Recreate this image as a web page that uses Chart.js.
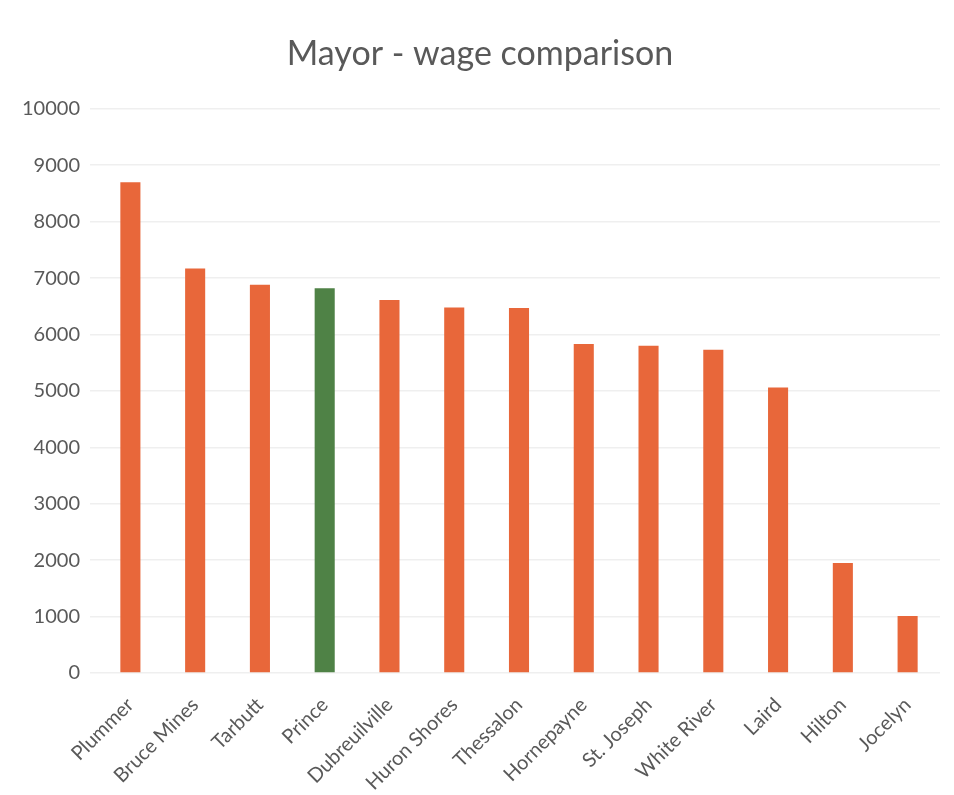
<!DOCTYPE html>
<html lang="en">
<head>
  <meta charset="UTF-8">
  <title>Mayor - wage comparison</title>
  <script src="https://cdn.jsdelivr.net/npm/chart.js"></script>
  <style>
    html, body { margin: 0; padding: 0; background: #fff; }
    #wrap { width: 954px; height: 795px; position: relative; }
  </style>
</head>
<body>
  <div id="wrap"><canvas id="wageChart"></canvas></div>

  <script>
    // municipalities, sorted by mayor's wage
    const towns = ['Plummer', 'Bruce Mines', 'Tarbutt', 'Prince', 'Dubreuilville', 'Huron Shores',
                   'Thessalon', 'Hornepayne', 'St. Joseph', 'White River', 'Laird', 'Hilton', 'Jocelyn'];
    const wages = [8700, 7170, 6880, 6820, 6610, 6480, 6470, 5830, 5800, 5730, 5060, 1950, 1010];
    const highlight = 'Prince';
    const yTicks = [0, 1000, 2000, 3000, 4000, 5000, 6000, 7000, 8000, 9000, 10000];

    const orange = '#E8673A';
    const green = '#4F8246';
    const grey = '#595959';
    const font = 'Lato, "Open Sans", sans-serif';

    new Chart(document.getElementById('wageChart'), {
      type: 'bar',
      data: {
        labels: towns,
        datasets: [{
          label: 'Wage',
          data: wages,
          backgroundColor: towns.map(t => t === highlight ? green : orange),
          barPercentage: 0.31,
          categoryPercentage: 1
        }]
      },
      options: {
        responsive: true,
        maintainAspectRatio: false,
        animation: false,
        layout: { padding: { left: 20, right: 14, top: 0, bottom: 0 } },
        plugins: {
          legend: { display: false },
          tooltip: { enabled: false },
          title: {
            display: true,
            text: 'Mayor - wage comparison',
            color: grey,
            font: { family: font, size: 34, weight: 'normal' },
            padding: { top: 34, bottom: 34 }
          }
        },
        scales: {
          x: {
            grid: { display: false },
            border: { display: false },
            ticks: {
              color: grey,
              font: { family: font, size: 20 },
              minRotation: 45,
              maxRotation: 45,
              autoSkip: false,
              padding: 12
            },
            afterFit: s => { s.height = 122; }
          },
          y: {
            min: 0,
            max: 10000,
            afterBuildTicks: s => { s.ticks = yTicks.map(v => ({ value: v })); },
            grid: { color: '#efefef', lineWidth: 1.5 },
            border: { display: false },
            ticks: {
              color: grey,
              font: { family: font, size: 20 },
              padding: 10,
              callback: v => String(v)
            },
            afterFit: s => { s.width = 78; }
          }
        }
      }
    });
  </script>
</body>
</html>
